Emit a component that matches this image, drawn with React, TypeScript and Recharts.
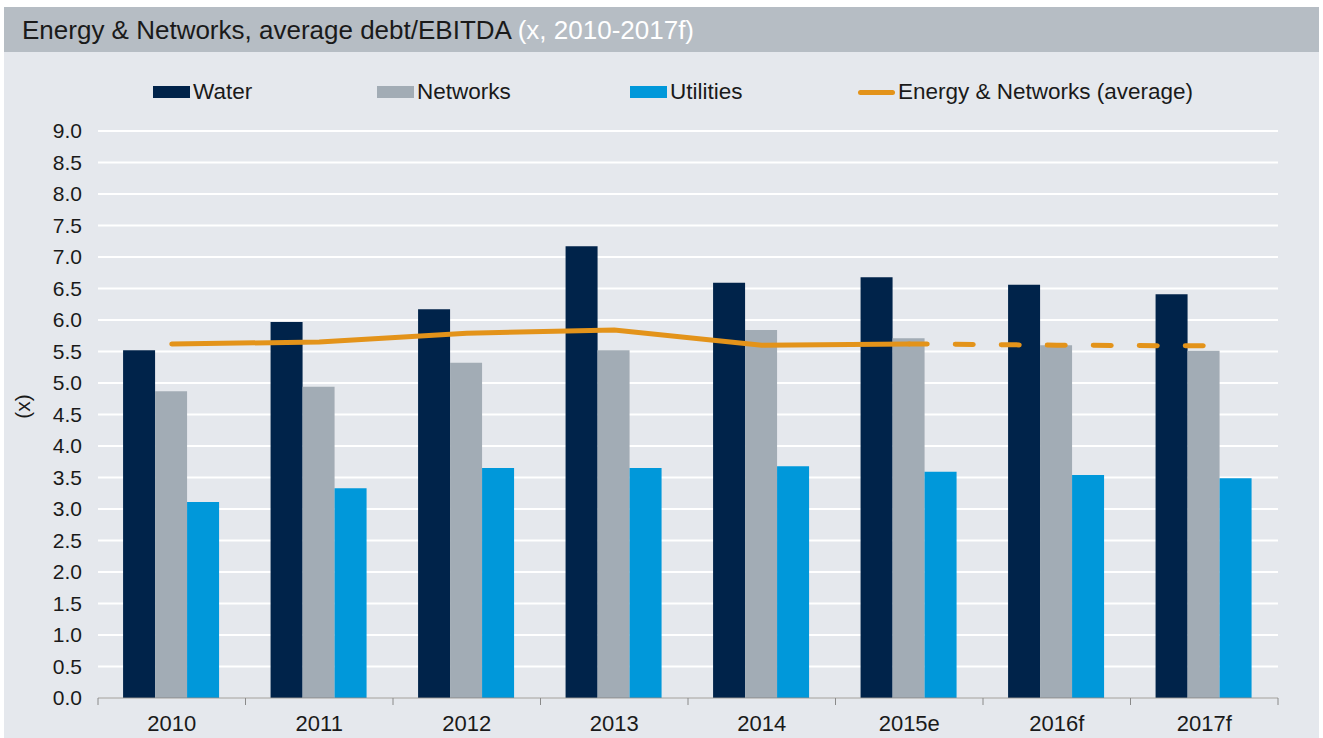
import React from 'react';
import { ComposedChart, Bar, Line, XAxis, YAxis, CartesianGrid, Label } from 'recharts';

const categories = ['2010', '2011', '2012', '2013', '2014', '2015e', '2016f', '2017f'];
const water = [5.52, 5.97, 6.17, 7.17, 6.59, 6.68, 6.56, 6.41];
const networks = [4.87, 4.94, 5.32, 5.52, 5.84, 5.71, 5.6, 5.51];
const utilities = [3.11, 3.33, 3.65, 3.65, 3.68, 3.59, 3.54, 3.49];
const average = [5.62, 5.65, 5.79, 5.84, 5.6, 5.62, 5.6, 5.59];
// last actual estimate is 2015e; forecasts are dashed
const lastActual = 5;
const yTicks = [0, 0.5, 1, 1.5, 2, 2.5, 3, 3.5, 4, 4.5, 5, 5.5, 6, 6.5, 7, 7.5, 8, 8.5, 9];

const data = categories.map((year, i) => ({
  year,
  water: water[i],
  networks: networks[i],
  utilities: utilities[i],
  avgSolid: i <= lastActual ? average[i] : null,
  avgDashed: i >= lastActual ? average[i] : null,
}));

const FONT = '"Liberation Sans", Arial, Helvetica, sans-serif';
const C_WATER = '#00234a';
const C_NET = '#a2acb5';
const C_UTIL = '#0098da';
const C_AVG = '#e3931a';
const BG = '#e5e8ed';

const W = 1315;
const H = 686;
const AXIS_H = 40;
const M = { top: 79, right: 41, bottom: 0, left: 0 };
const HALF = (W - 94 - M.right) / categories.length / 2;

const XTick = (props: any) => {
  const { x, y, payload, index } = props;
  const half = payload && payload.offset ? payload.offset : HALF;
  const last = index === categories.length - 1;
  return (
    <g>
      <line x1={x - half} y1={y} x2={x - half} y2={y + 7} stroke="#8a8a8a" />
      {last && <line x1={x + half} y1={y} x2={x + half} y2={y + 7} stroke="#8a8a8a" />}
      <text x={x} y={y + 33} textAnchor="middle" fontSize={22} fill="#1a1a1a" fontFamily={FONT}>
        {payload.value}
      </text>
    </g>
  );
};

const legendItems = [
  { name: 'Water', color: C_WATER, left: 149, line: false },
  { name: 'Networks', color: C_NET, left: 373, line: false },
  { name: 'Utilities', color: C_UTIL, left: 626, line: false },
  { name: 'Energy & Networks (average)', color: C_AVG, left: 854, line: true },
];

export default function App() {
  return (
    <div style={{ position: 'absolute', left: 0, top: 0, width: 1323, height: 738, background: '#fff' }}>
      <div style={{ position: 'absolute', left: 4, top: 7, width: W, height: 731, background: BG }}>
        <div
          style={{
            height: 45,
            background: '#b6bdc4',
            fontFamily: FONT,
            fontSize: 26,
            lineHeight: '46px',
            paddingLeft: 18,
            color: '#1a1a1a',
            whiteSpace: 'nowrap',
          }}
        >
          Energy &amp; Networks, average debt/EBITDA <span style={{ color: '#ffffff' }}>(x, 2010-2017f)</span>
        </div>
        <div style={{ position: 'absolute', left: 0, top: 45 }}>
          {legendItems.map((it) => (
            <div
              key={it.name}
              style={{
                position: 'absolute',
                left: it.left,
                top: 28,
                height: 24,
                display: 'flex',
                alignItems: 'center',
                fontFamily: FONT,
                fontSize: 22.5,
                color: '#1a1a1a',
                whiteSpace: 'nowrap',
              }}
            >
              {it.line ? (
                <span style={{ width: 37, height: 5, borderRadius: 3, background: it.color, marginRight: 3 }} />
              ) : (
                <span style={{ width: 37, height: 12, background: it.color, marginRight: 3 }} />
              )}
              {it.name}
            </div>
          ))}
          <ComposedChart
            width={W}
            height={H}
            data={data}
            margin={M}
            barCategoryGap="17%"
            barGap={0}
          >
            <CartesianGrid horizontal vertical={false} stroke="#ffffff" strokeWidth={2} />
            <XAxis
              dataKey="year"
              tick={<XTick />}
              tickLine={false}
              tickSize={0}
              tickMargin={0}
              axisLine={{ stroke: '#8a8a8a' }}
              interval={0}
              height={AXIS_H}
            />
            <YAxis
              width={94}
              domain={[0, 9]}
              ticks={yTicks}
              tickFormatter={(v: number) => v.toFixed(1)}
              tick={{ fontSize: 21, fill: '#1a1a1a', fontFamily: FONT }}
              tickLine={false}
              axisLine={false}
              tickSize={0}
              tickMargin={16}
              interval={0}
            >
              <Label
                content={(p: any) => {
                  const vb = p.viewBox || { x: 0, y: M.top, height: H - M.top - AXIS_H };
                  const cx = vb.x + 18;
                  const cy = vb.y + vb.height / 2 - 8;
                  return (
                    <text
                      x={cx}
                      y={cy}
                      transform={`rotate(-90 ${cx} ${cy})`}
                      textAnchor="middle"
                      dominantBaseline="central"
                      fontSize={21}
                      fill="#1a1a1a"
                      fontFamily={FONT}
                    >
                      (x)
                    </text>
                  );
                }}
              />
            </YAxis>
            <Bar dataKey="water" fill={C_WATER} isAnimationActive={false} />
            <Bar dataKey="networks" fill={C_NET} isAnimationActive={false} />
            <Bar dataKey="utilities" fill={C_UTIL} isAnimationActive={false} />
            <Line
              dataKey="avgSolid"
              stroke={C_AVG}
              strokeWidth={5}
              dot={false}
              strokeLinecap="round"
              isAnimationActive={false}
              connectNulls={false}
            />
            <Line
              dataKey="avgDashed"
              stroke={C_AVG}
              strokeWidth={5}
              strokeDasharray="18 28"
              strokeLinecap="round"
              dot={false}
              isAnimationActive={false}
              connectNulls={false}
            />
          </ComposedChart>
        </div>
      </div>
    </div>
  );
}
